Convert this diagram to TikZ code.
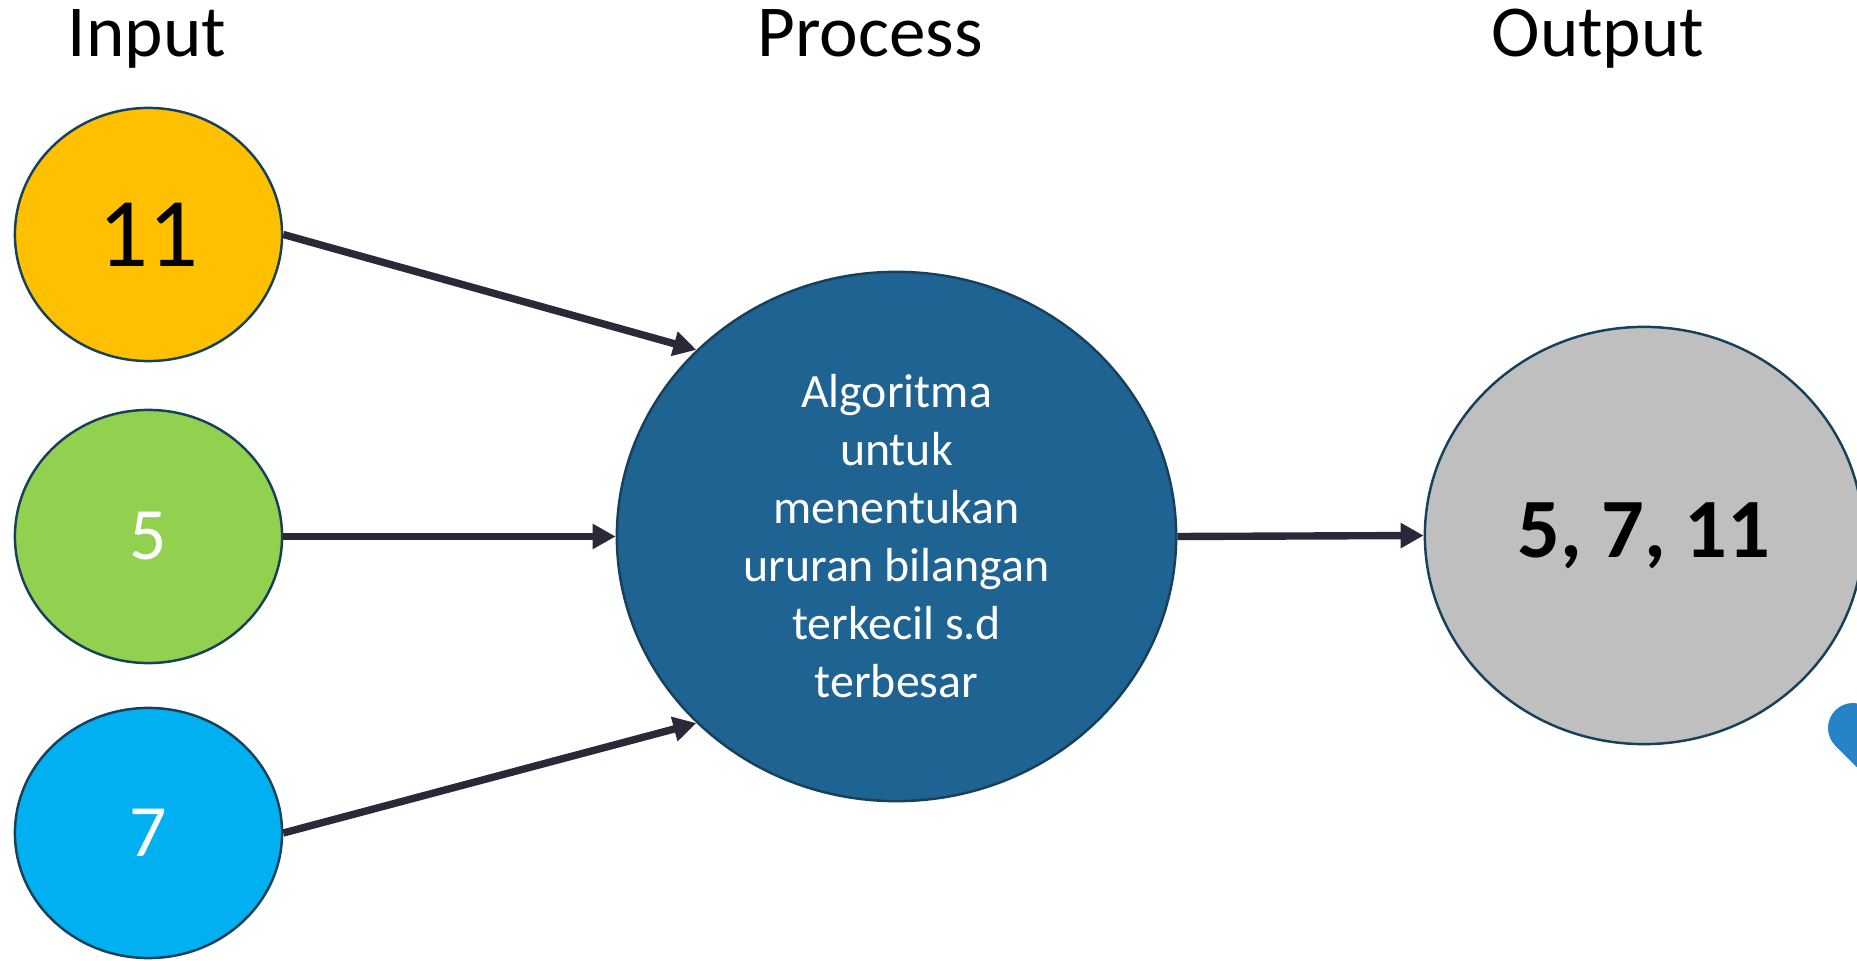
\documentclass[tikz,border=0pt]{standalone}
\usepackage{fontspec}
\setmainfont{Carlito}
\usetikzlibrary{shapes.geometric,arrows.meta}
\definecolor{inyellow}{HTML}{FFC000}
\definecolor{ingreen}{HTML}{92D050}
\definecolor{incyan}{HTML}{00B0F0}
\definecolor{procblue}{HTML}{1F6392}
\definecolor{outgray}{HTML}{BFBFBF}
\definecolor{rimblue}{HTML}{17405A}
\definecolor{linkdark}{HTML}{2B2937}
\definecolor{blobblue}{HTML}{2683C6}

\begin{document}
\begin{tikzpicture}[x=0.01cm,y=-0.01cm,
    bubble/.style={ellipse,draw=rimblue,line width=0.7pt,inner sep=0pt},
    link/.style={draw=linkdark,line width=2.1pt,-{Triangle[length=0.23cm,width=0.24cm]}},
    title/.style={anchor=base,font=\fontsize{20.8}{25}\selectfont}]
    \useasboundingbox (0,0) rectangle (1857,961);
    \clip (0,0) rectangle (1857,961);

    % judul kolom
    \node[title] (tin) at (147,57) {Input};
    \node[title] (tproc) at (870,57) {Process};
    \node[title] (tout) at (1598,57) {Output};

    % masukan
    \node[bubble,fill=inyellow,minimum width=2.67cm,minimum height=2.53cm,
        font=\fontsize{28}{34}\selectfont] (n11) at (148.5,234.5) {11};
    \node[bubble,fill=ingreen,minimum width=2.67cm,minimum height=2.53cm,
        text=white,font=\fontsize{21}{25}\selectfont] (n5) at (148.5,536.5) {5};
    \node[bubble,fill=incyan,minimum width=2.67cm,minimum height=2.5cm,
        text=white,font=\fontsize{21}{25}\selectfont] (n7) at (148.5,833) {7};

    % proses dan keluaran
    \node[bubble,fill=procblue,minimum width=5.59cm,minimum height=5.29cm,
        text=white,align=center,font=\fontsize{13.6}{16.5}\selectfont] (proc) at (896.5,536.5)
        {Algoritma\\untuk\\menentukan\\ururan bilangan\\terkecil s.d\\terbesar};
    \node[bubble,fill=outgray,minimum width=4.38cm,minimum height=4.17cm,
        font=\fontsize{24}{29}\bfseries\selectfont] (out) at (1644,535.5) {5, 7, 11};

    \draw[link] (n11.east) -- (proc.137);
    \draw[link] (n5.east) -- (proc.west);
    \draw[link] (n7.east) -- (proc.223);
    \draw[link] (proc.east) -- (out.west);

    % potongan bentuk di tepi kanan
    \fill[blobblue] (1853,728) circle[radius=25];
    \fill[blobblue] (1835.3,745.7) -- (1857,767.4) -- (1857,728) -- cycle;
\end{tikzpicture}
\end{document}
